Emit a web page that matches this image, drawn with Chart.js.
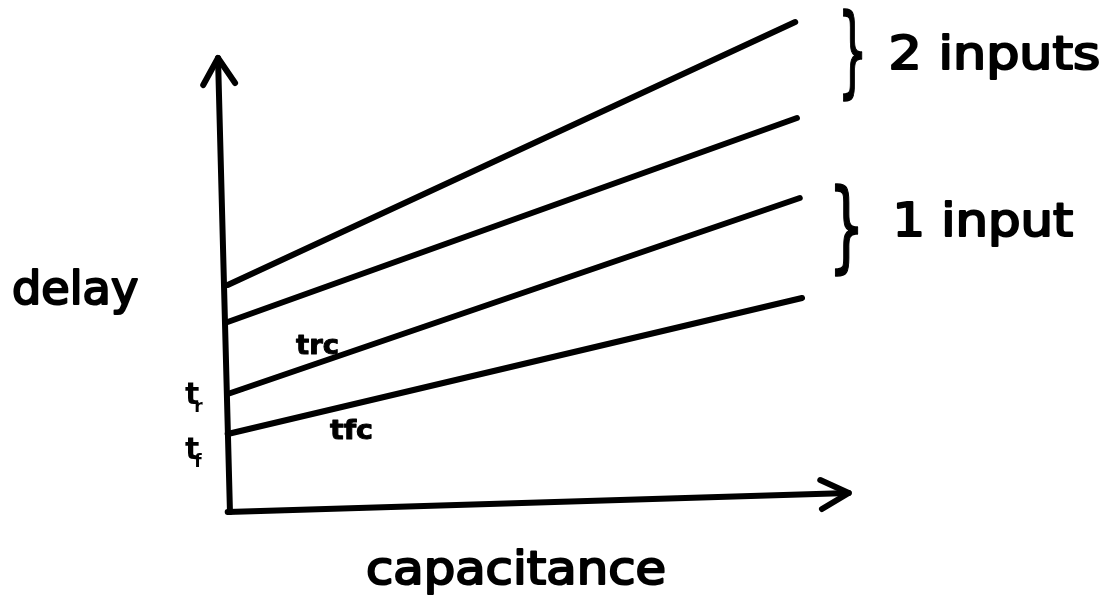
<!DOCTYPE html>
<html>
<head>
<meta charset="utf-8">
<script src="https://cdn.jsdelivr.net/npm/chart.js@4.4.1/dist/chart.umd.min.js"></script>
<style>
  html, body { margin: 0; padding: 0; background: #fff; }
  #wrap { width: 1110px; height: 603px; }
</style>
</head>
<body>
<div id="wrap"><canvas id="chart-delay" width="1110" height="603"></canvas></div>
<script>
// delay vs capacitance, four straight lines (x: capacitance, y: delay)
const lineNames = ['2 inputs (upper)', '2 inputs (lower)', 'trc', 'tfc'];
const lineStartX = [0, 0, 0, 0];
const lineStartY = [4.5, 3.76, 2.32, 1.52];
const lineEndX = [9.97, 10.0, 10.05, 10.09];
const lineEndY = [9.76, 7.84, 6.24, 4.24];

// hand drawn axes and their arrow heads
const yAxisX = [0.04, -0.17];
const yAxisY = [-0.04, 9.04];
const xAxisX = [0, 10.91];
const xAxisY = [-0.04, 0.34];
const yArrowX = [-0.43, -0.17, 0.13];
const yArrowY = [8.5, 9.04, 8.54];
const xArrowX = [10.41, 10.91, 10.44];
const xArrowY = [0.6, 0.34, 0.02];

const pts = (xs, ys) => xs.map((x, i) => ({ x, y: ys[i] }));

const seg = (label, data) => ({
    label,
    data,
    borderColor: '#000',
    borderWidth: 6,
    borderCapStyle: 'round',
    borderJoinStyle: 'round',
    pointRadius: 0,
    fill: false,
    tension: 0
});

const datasets = lineNames.map((n, i) =>
    seg(n, [{ x: lineStartX[i], y: lineStartY[i] }, { x: lineEndX[i], y: lineEndY[i] }]));
datasets.push(seg('y axis', pts(yAxisX, yAxisY)));
datasets.push(seg('x axis', pts(xAxisX, xAxisY)));
datasets.push(seg('y arrow', pts(yArrowX, yArrowY)));
datasets.push(seg('x arrow', pts(xArrowX, xArrowY)));

const FONT = '"DejaVu Sans"';

const labelsPlugin = {
    id: 'labels',
    afterDatasetsDraw(chart) {
        const { ctx } = chart;
        ctx.save();
        ctx.fillStyle = '#000';
        ctx.strokeStyle = '#000';
        ctx.lineJoin = 'round';
        ctx.textBaseline = 'alphabetic';
        ctx.textAlign = 'left';

        // text squeezed to span left..right
        const fit = (txt, left, right, base, size, weight, stroke) => {
            ctx.save();
            ctx.font = `${weight} ${size}px ${FONT}`;
            const m = ctx.measureText(txt);
            const w = m.actualBoundingBoxRight + m.actualBoundingBoxLeft;
            ctx.translate(left, base);
            ctx.scale((right - left) / w, 1);
            ctx.fillText(txt, m.actualBoundingBoxLeft, 0);
            if (stroke) {
                ctx.lineWidth = stroke;
                ctx.strokeText(txt, m.actualBoundingBoxLeft, 0);
            }
            ctx.restore();
        };
        fit('delay', 14, 137, 304, 46, 'normal', 2.2);
        fit('capacitance', 368, 664, 584, 47, 'normal', 2.2);
        fit('2 inputs', 892, 1098, 69, 46, 'normal', 2.2);
        fit('1 input', 898, 1072, 236, 46, 'normal', 2.2);

        // braces, stretched vertically to top..bottom
        const brace = (left, right, top, bottom) => {
            ctx.save();
            ctx.font = `normal 60px ${FONT}`;
            const m = ctx.measureText('}');
            const h = m.actualBoundingBoxAscent + m.actualBoundingBoxDescent;
            const w = m.actualBoundingBoxRight + m.actualBoundingBoxLeft;
            ctx.translate(left, top);
            ctx.scale((right - left) / w, (bottom - top) / h);
            ctx.fillText('}', m.actualBoundingBoxLeft, m.actualBoundingBoxAscent);
            ctx.lineWidth = 1;
            ctx.strokeText('}', m.actualBoundingBoxLeft, m.actualBoundingBoxAscent);
            ctx.restore();
        };
        brace(843, 862, 9, 102);
        brace(835, 858, 184, 277);

        // small labels on the lines
        fit('trc', 296, 338, 354, 27, 'bold', 1);
        fit('tfc', 330, 372, 439, 27, 'bold', 1);

        const sub = (main, s, px, py) => {
            ctx.font = `bold 30px ${FONT}`;
            ctx.fillText(main, px, py);
            const w = ctx.measureText(main).width;
            ctx.font = `bold 17px ${FONT}`;
            ctx.fillText(s, px + w - 5, py + 8);
        };
        sub('t', 'r', 185, 404);
        sub('t', 'f', 185, 459);
        ctx.restore();
    }
};

new Chart(document.getElementById('chart-delay'), {
    type: 'line',
    data: { datasets },
    options: {
        responsive: false,
        animation: false,
        layout: { padding: 0 },
        plugins: { legend: { display: false }, tooltip: { enabled: false } },
        scales: {
            x: { type: 'linear', min: -4, max: 15.5, display: false },
            y: { type: 'linear', min: -1.86, max: 10.2, display: false }
        }
    },
    plugins: [labelsPlugin]
});
</script>
</body>
</html>
